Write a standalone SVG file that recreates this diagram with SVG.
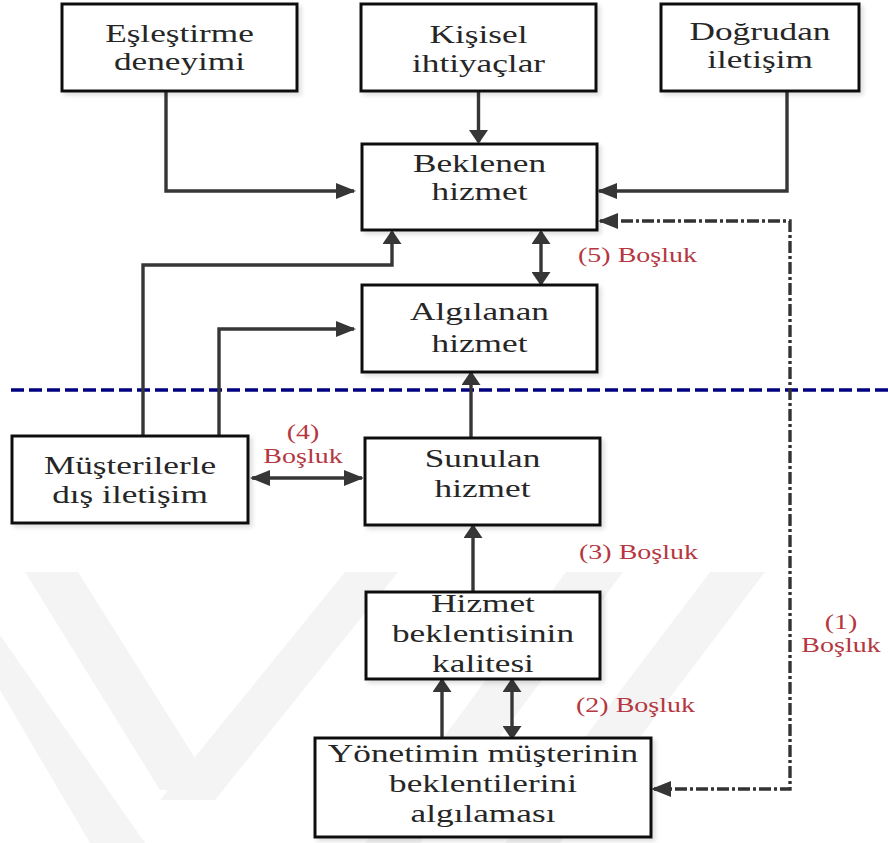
<svg xmlns="http://www.w3.org/2000/svg" width="888" height="843" viewBox="0 0 888 843">
<style>
.box{fill:#fff;stroke:#111;stroke-width:3;filter:url(#sh)}
.t{font-family:"Liberation Serif","Times New Roman",serif;font-size:25px;fill:#262626;text-anchor:middle}
.r{font-family:"Liberation Serif","Times New Roman",serif;font-size:20px;fill:#b5373f}
.c{fill:none;stroke:#363636;stroke-width:3.4}
.dd{fill:none;stroke:#333;stroke-width:3.4;stroke-dasharray:12 3 3 3}
.wm{fill:#f4f4f4}
</style>
<defs>
<filter id="sh" x="-10%" y="-10%" width="120%" height="125%">
<feDropShadow dx="3" dy="3" stdDeviation="2" flood-color="#000" flood-opacity="0.12"/>
</filter>
<marker id="ah" viewBox="0 0 20 16" refX="18" refY="8" markerWidth="20" markerHeight="16" markerUnits="userSpaceOnUse" orient="auto-start-reverse">
<path d="M0,0 L20,8 L0,16 z" fill="#363636"/>
</marker>
<marker id="av" viewBox="0 0 14 19" refX="12" refY="9.5" markerWidth="14" markerHeight="19" markerUnits="userSpaceOnUse" orient="auto-start-reverse">
<path d="M0,0 L14,9.5 L0,19 z" fill="#363636"/>
</marker>
</defs>
<rect width="888" height="843" fill="#fff"/>
<g id="watermark">
<polygon class="wm" points="25,572 78,572 215,790 160,790"/>
<polygon class="wm" points="345,572 398,572 215,800 160,800"/>
<polygon class="wm" points="0,635 0,690 90,843 145,843"/>
<polygon class="wm" points="566,572 623,572 420,843 365,843"/>
<polygon class="wm" points="710,572 765,572 560,843 505,843"/>
</g>
<g id="gap-line">
<path d="M11,390 H888" fill="none" stroke="#000080" stroke-width="3.5" stroke-dasharray="13 5"/>
</g>
<g id="connectors">
<path class="c" d="M166,91 V191 H354" marker-end="url(#ah)"/>
<path class="c" d="M478.5,91 V142" marker-end="url(#av)"/>
<path class="c" d="M787,91 V191 H599" marker-end="url(#ah)"/>
<path class="c" d="M143,436 V265 H392 V232" marker-end="url(#av)"/>
<path class="c" d="M541,232 V284" marker-start="url(#av)" marker-end="url(#av)"/>
<path class="c" d="M219,436 V329 H354" marker-end="url(#ah)"/>
<path class="c" d="M471,438 V373" marker-end="url(#av)"/>
<path class="c" d="M252,478 H362" marker-start="url(#ah)" marker-end="url(#ah)"/>
<path class="c" d="M473,592 V526" marker-end="url(#av)"/>
<path class="c" d="M442,738 V680" marker-end="url(#av)"/>
<path class="c" d="M512,680 V738" marker-start="url(#av)" marker-end="url(#av)"/>
<path class="dd" d="M600,221 H790 V789 H653" marker-start="url(#ah)" marker-end="url(#ah)"/>
</g>
<g id="n-esles">
<rect class="box" x="62" y="4" width="235" height="87"/>
<text class="t" transform="translate(179.5,0) scale(1.41,1)"><tspan x="0" y="42">Eşleştirme</tspan><tspan x="0" y="70">deneyimi</tspan></text>
</g>
<g id="n-kisisel">
<rect class="box" x="361" y="4" width="235" height="87"/>
<text class="t" transform="translate(478.5,0) scale(1.41,1)"><tspan x="0" y="43">Kişisel</tspan><tspan x="0" y="72">ihtiyaçlar</tspan></text>
</g>
<g id="n-dogrudan">
<rect class="box" x="661" y="4" width="198" height="87"/>
<text class="t" transform="translate(760,0) scale(1.41,1)"><tspan x="0" y="40">Doğrudan</tspan><tspan x="0" y="68">iletişim</tspan></text>
</g>
<g id="n-beklenen">
<rect class="box" x="362" y="144" width="235" height="86"/>
<text class="t" transform="translate(479.5,0) scale(1.41,1)"><tspan x="0" y="172">Beklenen</tspan><tspan x="0" y="200">hizmet</tspan></text>
</g>
<g id="n-algilanan">
<rect class="box" x="362" y="285" width="235" height="87"/>
<text class="t" transform="translate(479.5,0) scale(1.41,1)"><tspan x="0" y="320">Algılanan</tspan><tspan x="0" y="352">hizmet</tspan></text>
</g>
<g id="n-musteri">
<rect class="box" x="12" y="436" width="236" height="87"/>
<text class="t" transform="translate(130,0) scale(1.41,1)"><tspan x="0" y="474">Müşterilerle</tspan><tspan x="0" y="503">dış iletişim</tspan></text>
</g>
<g id="n-sunulan">
<rect class="box" x="365" y="438" width="235" height="87"/>
<text class="t" transform="translate(482.5,0) scale(1.41,1)"><tspan x="0" y="467">Sunulan</tspan><tspan x="0" y="497">hizmet</tspan></text>
</g>
<g id="n-hizmet">
<rect class="box" x="366" y="592" width="234" height="87"/>
<text class="t" transform="translate(483,0) scale(1.41,1)"><tspan x="0" y="612">Hizmet</tspan><tspan x="0" y="642">beklentisinin</tspan><tspan x="0" y="672">kalitesi</tspan></text>
</g>
<g id="n-yonetim">
<rect class="box" x="315" y="738" width="336" height="99"/>
<text class="t" transform="translate(483,0) scale(1.41,1)"><tspan x="0" y="762">Yönetimin müşterinin</tspan><tspan x="0" y="792">beklentilerini</tspan><tspan x="0" y="822">algılaması</tspan></text>
</g>
<g id="labels">
<text class="r" transform="translate(578,262) scale(1.4,1)">(5) Boşluk</text>
<text class="r" transform="translate(303,0) scale(1.4,1)" text-anchor="middle"><tspan x="0" y="439">(4)</tspan><tspan x="0" y="463">Boşluk</tspan></text>
<text class="r" transform="translate(579,559) scale(1.4,1)">(3) Boşluk</text>
<text class="r" transform="translate(576,712) scale(1.4,1)">(2) Boşluk</text>
<text class="r" transform="translate(841,0) scale(1.4,1)" text-anchor="middle"><tspan x="0" y="629">(1)</tspan><tspan x="0" y="652">Boşluk</tspan></text>
</g>
</svg>
